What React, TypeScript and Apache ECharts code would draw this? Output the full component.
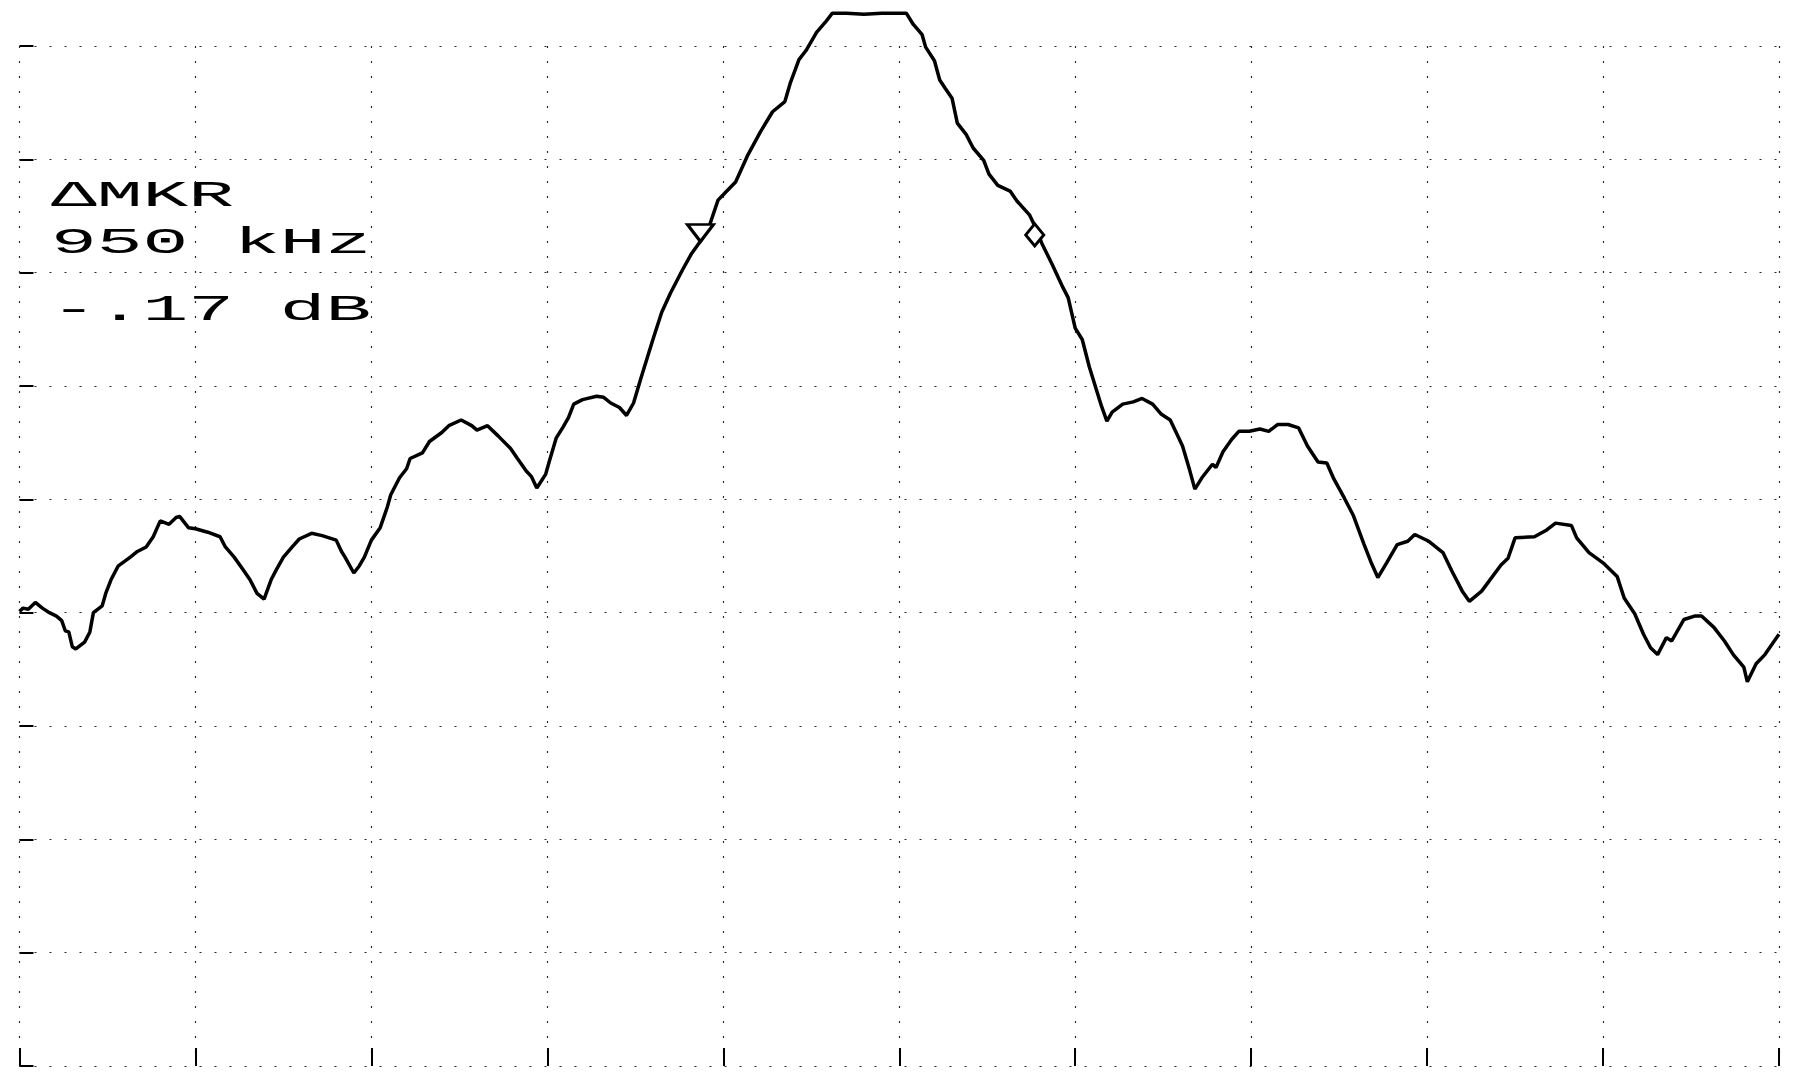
import React, { useEffect, useRef } from "react";
import * as echarts from "echarts";

// Frequency offset from centre (kHz), 500 kHz / div, 10 div span
const freqKHz = [
  -2500, -2490, -2475, -2455, -2435, -2415, -2395, -2380, -2370, -2360, -2350, -2340, -2315, -2300, -2290,
  -2265, -2255, -2240, -2220, -2185, -2165, -2140, -2120, -2100, -2075, -2055, -2045, -2020, -2000, -1965,
  -1930, -1915, -1890, -1865, -1845, -1825, -1805, -1785, -1770, -1750, -1725, -1705, -1670, -1640, -1600,
  -1585, -1575, -1550, -1535, -1520, -1500, -1475, -1455, -1445, -1420, -1400, -1390, -1355, -1335, -1300,
  -1280, -1245, -1215, -1200, -1170, -1140, -1105, -1085, -1060, -1045, -1030, -1005, -995, -975, -955,
  -940, -925, -900, -860, -840, -820, -795, -775, -755, -735, -715, -700, -675, -650, -615,
  -590, -560, -540, -515, -490, -465, -430, -395, -360, -325, -310, -285, -265, -235, -210,
  -190, -150, -100, -50, 0, 20, 40, 65, 75, 100, 115, 130, 150, 165, 190,
  210, 240, 255, 280, 315, 335, 370, 390, 405, 435, 465, 480, 500, 520, 540,
  560, 575, 590, 605, 635, 665, 690, 720, 745, 770, 790, 805, 825, 840, 860,
  890, 900, 920, 945, 965, 995, 1025, 1050, 1075, 1105, 1135, 1160, 1190, 1215, 1235,
  1265, 1290, 1320, 1340, 1360, 1385, 1415, 1445, 1465, 1505, 1545, 1570, 1600, 1620, 1655,
  1710, 1730, 1750, 1805, 1840, 1865, 1910, 1925, 1960, 2000, 2040, 2060, 2090, 2115, 2135,
  2155, 2180, 2195, 2230, 2260, 2280, 2315, 2345, 2370, 2400, 2410, 2435, 2460, 2500,
];

// Trace level (dB), 10 dB / div
const levelDb = [
  -49.9, -49.6, -49.7, -49.1, -49.6, -50.0, -50.3, -50.7, -51.6, -51.7, -53.0, -53.2, -52.6, -51.7, -50.0,
  -49.4, -48.3, -47.1, -45.9, -45.1, -44.6, -44.2, -43.3, -41.9, -42.2, -41.6, -41.5, -42.5, -42.6, -42.9,
  -43.3, -44.2, -45.1, -46.2, -47.1, -48.3, -48.8, -47.1, -46.2, -45.1, -44.2, -43.5, -43.0, -43.2, -43.6,
  -44.6, -45.1, -46.5, -45.9, -45.1, -43.6, -42.5, -40.7, -39.6, -38.1, -37.3, -36.4, -35.9, -34.9, -34.1,
  -33.5, -33.0, -33.5, -33.9, -33.5, -34.4, -35.5, -36.4, -37.5, -38.0, -39.0, -37.8, -36.7, -34.6, -33.6,
  -32.8, -31.6, -31.2, -30.9, -31.0, -31.5, -31.9, -32.6, -31.5, -29.4, -27.4, -25.9, -23.5, -21.8, -19.7,
  -18.3, -17.0, -15.9, -13.6, -12.8, -12.0, -9.6, -7.6, -5.8, -4.9, -3.3, -1.2, -0.4, 1.2, 2.1,
  2.9, 2.9, 2.8, 2.9, 2.9, 2.9, 1.9, 1.0, -0.1, -1.3, -3.0, -3.7, -4.6, -6.8, -7.8,
  -9.0, -10.1, -11.3, -12.3, -12.8, -13.7, -14.9, -16.2, -17.4, -19.3, -21.3, -22.2, -24.9, -25.9, -28.3,
  -30.3, -31.8, -33.1, -32.3, -31.6, -31.4, -31.1, -31.6, -32.5, -33.0, -34.3, -35.3, -37.4, -39.1, -38.1,
  -36.9, -37.2, -35.8, -34.7, -34.0, -34.0, -33.8, -34.0, -33.4, -33.4, -33.7, -35.3, -36.7, -36.8, -38.2,
  -39.9, -41.4, -43.9, -45.5, -46.9, -45.6, -44.0, -43.7, -43.1, -43.7, -44.7, -46.3, -48.1, -49.0, -48.1,
  -45.8, -45.2, -43.4, -43.3, -42.7, -42.1, -42.3, -43.4, -44.7, -45.6, -46.8, -48.7, -50.1, -51.9, -53.1,
  -53.7, -52.2, -52.5, -50.6, -50.3, -50.3, -51.3, -52.5, -53.7, -54.8, -56.1, -54.5, -53.7, -51.9,
];

// Markers: reference marker (▽) and delta marker (◇)
const markerKHz = [-565, 385];
const markerDb = [-16.5, -16.67];
const markerSymbols = ["triangle", "diamond"];

// Delta-marker readout
const readoutLines = ["ΔMKR", "950 kHz", "-.17 dB"];

export default function App() {
  const ref = useRef<HTMLDivElement>(null);

  useEffect(() => {
    const chart = echarts.init(ref.current!, null, { renderer: "svg" });
    const trace = freqKHz.map((f, i) => [f, levelDb[i]]);
    const gridLine = { color: "#2a2a2a", width: 1.2, type: [2, 13] as any };
    const readoutY = [188.5, 235.5, 302];

    chart.setOption({
      animation: false,
      backgroundColor: "#ffffff",
      grid: { left: 11.5, right: 10, top: 38, bottom: 7, containLabel: false },
      xAxis: {
        type: "value",
        min: -2500,
        max: 2500,
        interval: 500,
        axisLine: { show: false, onZero: false },
        axisLabel: { show: false },
        axisTick: { show: true, inside: true, length: 18, lineStyle: { color: "#000", width: 2 } },
        splitLine: { show: true, lineStyle: gridLine },
      },
      yAxis: {
        type: "value",
        min: -90,
        max: 0,
        interval: 10,
        axisLine: { show: false, onZero: false },
        axisLabel: { show: false },
        axisTick: { show: true, inside: true, length: 14, lineStyle: { color: "#000", width: 2 } },
        splitLine: { show: true, lineStyle: gridLine },
      },
      series: [
        {
          type: "line",
          data: trace,
          showSymbol: false,
          symbol: "none",
          clip: false,
          lineStyle: { color: "#000", width: 3.5 },
          z: 3,
        },
        {
          type: "scatter",
          clip: false,
          z: 4,
          data: markerKHz.map((f, i) => ({
            value: [f, markerDb[i]],
            symbol: markerSymbols[i],
            symbolRotate: markerSymbols[i] === "triangle" ? 180 : 0,
            symbolSize: markerSymbols[i] === "triangle" ? [26, 17] : [18, 22],
          })),
          itemStyle: { color: "#ffffff", borderColor: "#000", borderWidth: 3, opacity: 1 },
        },
      ],
      graphic: readoutLines.map((t, i) => ({
        type: "text",
        x: 43,
        y: readoutY[i],
        scaleX: 2.06,
        style: {
          text: t,
          font: "37px 'Liberation Mono', 'DejaVu Sans Mono', monospace",
          fill: "#000",
          textVerticalAlign: "middle",
        },
      })),
    });
    return () => chart.dispose();
  }, []);

  return <div ref={ref} style={{ width: 1781, height: 1065 }} />;
}
